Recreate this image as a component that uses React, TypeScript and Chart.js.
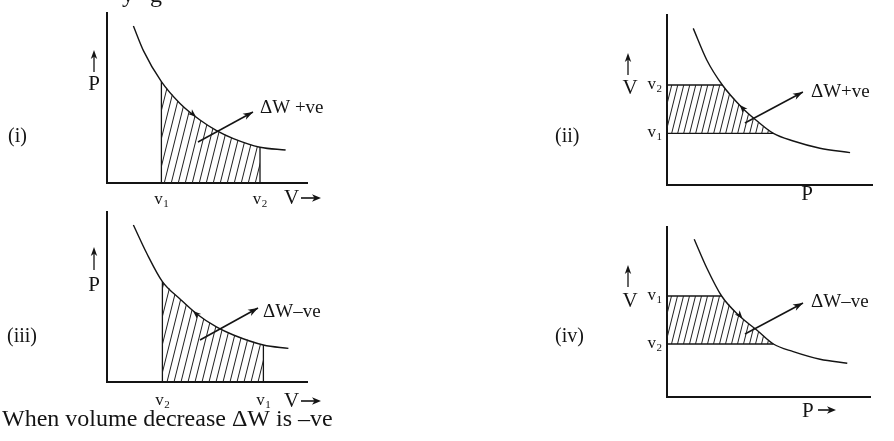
import React, { useEffect, useRef } from "react";
import { Chart, registerables } from "chart.js";

Chart.register(...registerables);

// ---------------- data ----------------
// Panel (i): P against V, expansion v1 -> v2
const p1CurveV = [1.32, 1.82, 2.72, 3.65, 4.65, 5.48, 6.32, 7.65, 8.93];
const p1CurveP = [7.85, 6.62, 5.07, 3.98, 3.15, 2.62, 2.22, 1.79, 1.65];
const p1Limits = [2.72, 7.65];
const p1LimitSubs = ["1", "2"];
const p1Leader = [4.55, 2.05, 7.3, 3.55];
const p1Mark = [4.2, 3.52, 4.45, 3.31];

// Panel (ii): V (vertical) against P
const p2CurveP = [1.28, 1.94, 2.7, 3.64, 4.38, 5.19, 6.16, 7.46, 8.93];
const p2CurveV = [7.83, 6.25, 5.0, 3.89, 3.21, 2.58, 2.2, 1.84, 1.62];
const p2Limits = [2.58, 5.0];
const p2LimitSubs = ["1", "2"];
const p2Leader = [3.8, 3.1, 6.63, 4.65];
const p2Mark = [3.75, 3.77, 3.55, 4.0];

// Panel (iii): P against V, compression v1 -> v2
const p3CurveV = [1.32, 1.98, 2.77, 3.65, 4.49, 5.49, 6.32, 7.82, 9.07];
const p3CurveP = [7.85, 6.45, 5.02, 4.15, 3.4, 2.74, 2.35, 1.85, 1.68];
const p3Limits = [2.77, 7.82];
const p3LimitSubs = ["2", "1"];
const p3Leader = [4.65, 2.1, 7.55, 3.7];
const p3Mark = [4.55, 3.33, 4.3, 3.55];

// Panel (iv): V (vertical) against P
const p4CurveP = [1.34, 1.96, 2.69, 3.6, 4.42, 5.24, 6.22, 7.54, 8.88];
const p4CurveV = [7.89, 6.45, 5.05, 4.02, 3.35, 2.65, 2.27, 1.89, 1.69];
const p4Limits = [2.65, 5.05];
const p4LimitSubs = ["2", "1"];
const p4Leader = [3.84, 3.15, 6.7, 4.7];
const p4Mark = [3.5, 4.18, 3.72, 3.93];

const noteTexts = ["\u0394W +ve", "\u0394W+ve", "\u0394W\u2013ve", "\u0394W\u2013ve"];
const romanTexts = ["(i)", "(ii)", "(iii)", "(iv)"];
const footerText = "When volume decrease \u0394W is \u2013ve";

// ---------------- layout / styles ----------------
const serif = '"Liberation Serif", "Times New Roman", Times, serif';
const INK = "#141414";

type Spec = {
  roman: string;
  vertV: boolean;
  cx: number[];
  cy: number[];
  limits: number[];
  subs: string[];
  leader: number[];
  mark: number[];
  note: string;
  box: { left: number; top: number; width: number; height: number };
  pad: { left: number; right: number; top: number; bottom: number };
  hatch: [number, number];
  romanPos: [number, number];
  yTitle: { text: string; cx: number; cy: number; ax: number; aTop: number; aBottom: number };
  xTitle: { text: string; x: number; base: number; align: "left" | "center"; arrow?: [number, number, number] };
  limitOffset: number;
  noteOffset: [number, number];
  extras: { text: string; x: number; y: number; size: number }[];
};

const specs: Spec[] = [
  {
    roman: romanTexts[0], vertV: false, cx: p1CurveV, cy: p1CurveP, limits: p1Limits, subs: p1LimitSubs,
    leader: p1Leader, mark: p1Mark, note: noteTexts[0],
    box: { left: 0, top: 0, width: 447, height: 210 },
    pad: { left: 107, right: 140, top: 13, bottom: 27 },
    hatch: [7, 28], romanPos: [8, 137],
    yTitle: { text: "P", cx: 94, cy: 84, ax: 94, aTop: 50, aBottom: 72 },
    xTitle: { text: "V", x: 284, base: 204, align: "left", arrow: [301, 321, 198] },
    limitOffset: 21, noteOffset: [7, -4],
    extras: [
      { text: "y", x: 122, y: 2, size: 24 },
      { text: "g", x: 150, y: 2, size: 24 },
    ],
  },
  {
    roman: romanTexts[1], vertV: true, cx: p2CurveP, cy: p2CurveV, limits: p2Limits, subs: p2LimitSubs,
    leader: p2Leader, mark: p2Mark, note: noteTexts[1],
    box: { left: 447, top: 0, width: 447, height: 210 },
    pad: { left: 220, right: 22, top: 15, bottom: 25 },
    hatch: [6, 24], romanPos: [108, 137],
    yTitle: { text: "V", cx: 183, cy: 88, ax: 181, aTop: 53, aBottom: 75 },
    xTitle: { text: "P", x: 360, base: 200, align: "center" },
    limitOffset: 4, noteOffset: [8, 0],
    extras: [],
  },
  {
    roman: romanTexts[2], vertV: false, cx: p3CurveV, cy: p3CurveP, limits: p3Limits, subs: p3LimitSubs,
    leader: p3Leader, mark: p3Mark, note: noteTexts[2],
    box: { left: 0, top: 210, width: 447, height: 231 },
    pad: { left: 107, right: 140, top: 2, bottom: 59 },
    hatch: [7, 28], romanPos: [7, 127],
    yTitle: { text: "P", cx: 94, cy: 75, ax: 94, aTop: 37, aBottom: 60 },
    xTitle: { text: "V", x: 284, base: 197, align: "left", arrow: [301, 321, 191] },
    limitOffset: 23, noteOffset: [5, 4],
    extras: [{ text: footerText, x: 2, y: 216, size: 24 }],
  },
  {
    roman: romanTexts[3], vertV: true, cx: p4CurveP, cy: p4CurveV, limits: p4Limits, subs: p4LimitSubs,
    leader: p4Leader, mark: p4Mark, note: noteTexts[3],
    box: { left: 447, top: 210, width: 447, height: 231 },
    pad: { left: 220, right: 24, top: 17, bottom: 44 },
    hatch: [6, 24], romanPos: [108, 127],
    yTitle: { text: "V", cx: 183, cy: 91, ax: 181, aTop: 55, aBottom: 77 },
    xTitle: { text: "P", x: 355, base: 207, align: "left", arrow: [371, 389, 200] },
    limitOffset: 4, noteOffset: [8, -1],
    extras: [],
  },
];

function makeHatch(spacing: number, rise: number): CanvasPattern {
  const c = document.createElement("canvas");
  c.width = spacing;
  c.height = rise;
  const g = c.getContext("2d")!;
  g.strokeStyle = "#1e1e1e";
  g.lineWidth = 1;
  for (const off of [-spacing, 0, spacing]) {
    g.beginPath();
    g.moveTo(off - spacing, 2 * rise);
    g.lineTo(off + 2 * spacing, -rise);
    g.stroke();
  }
  return g.createPattern(c, "repeat")!;
}

function head(ctx: CanvasRenderingContext2D, x1: number, y1: number, x2: number, y2: number, len: number, half: number) {
  const a = Math.atan2(y2 - y1, x2 - x1);
  const c = Math.cos(a), s = Math.sin(a);
  const bx = x2 - len * c, by = y2 - len * s;
  const nx = x2 - len * 0.72 * c, ny = y2 - len * 0.72 * s;
  ctx.beginPath();
  ctx.moveTo(x2, y2);
  ctx.lineTo(bx - half * s, by + half * c);
  ctx.lineTo(nx, ny);
  ctx.lineTo(bx + half * s, by - half * c);
  ctx.closePath();
  ctx.fill();
}

function vLabel(ctx: CanvasRenderingContext2D, sub: string, x: number, y: number, align: "center" | "right") {
  ctx.font = `17px ${serif}`;
  const w1 = ctx.measureText("v").width;
  ctx.font = `11px ${serif}`;
  const w2 = ctx.measureText(sub).width;
  const total = w1 + w2 + 0.5;
  const x0 = align === "center" ? x - total / 2 : x - total;
  ctx.textAlign = "left";
  ctx.textBaseline = "alphabetic";
  ctx.font = `17px ${serif}`;
  ctx.fillText("v", x0, y);
  ctx.font = `11px ${serif}`;
  ctx.fillText(sub, x0 + w1 + 0.5, y + 3);
}

function Panel({ spec }: { spec: Spec }) {
  const ref = useRef<HTMLCanvasElement>(null);
  useEffect(() => {
    const canvas = ref.current!;
    const pattern = makeHatch(spec.hatch[0], spec.hatch[1]);
    const eps = 1e-6;
    const curve = spec.cx.map((x, i) => ({ x, y: spec.cy[i] }));
    const [lo, hi] = spec.limits;
    let shade: { x: number; y: number }[];
    if (!spec.vertV) {
      const inner = curve.filter((p) => p.x >= lo - eps && p.x <= hi + eps);
      shade = [{ x: lo, y: 0 }, ...inner, { x: hi, y: 0 }];
    } else {
      const inner = curve.filter((p) => p.y >= lo - eps && p.y <= hi + eps).reverse();
      shade = [...inner, { x: 0, y: hi }, { x: 0, y: lo }];
    }
    const edges = spec.limits.map((v) => {
      const p = curve.find((q) => Math.abs((spec.vertV ? q.y : q.x) - v) < eps)!;
      return spec.vertV ? [{ x: 0, y: v }, { x: p.x, y: v }] : [{ x: v, y: 0 }, { x: v, y: p.y }];
    });
    const L = spec.leader;
    const leader = [{ x: L[0], y: L[1] }, { x: L[2], y: L[3] }];

    const base = { pointRadius: 0, pointHoverRadius: 0, clip: false as any, fill: false as any };
    const annot = {
      id: "annot",
      afterDatasetsDraw(chart: any) {
        const { ctx: c, chartArea: a, scales } = chart;
        const xs = scales.x, ys = scales.y;
        const px = (v: number) => xs.getPixelForValue(v);
        const py = (v: number) => ys.getPixelForValue(v);
        c.save();
        c.fillStyle = INK;
        c.strokeStyle = INK;
        head(c, px(L[0]), py(L[1]), px(L[2]), py(L[3]), 10, 3.5);
        const M = spec.mark;
        head(c, px(M[0]), py(M[1]), px(M[2]), py(M[3]), 8, 3.2);
        c.font = `19px ${serif}`;
        c.textAlign = "left";
        c.textBaseline = "middle";
        c.fillText(spec.note, px(L[2]) + spec.noteOffset[0], py(L[3]) + spec.noteOffset[1]);
        c.font = `20px ${serif}`;
        c.fillText(spec.roman, spec.romanPos[0], spec.romanPos[1]);
        const yt = spec.yTitle;
        c.font = `21px ${serif}`;
        c.textAlign = "center";
        c.fillText(yt.text, yt.cx, yt.cy);
        c.lineWidth = 1.3;
        c.beginPath();
        c.moveTo(yt.ax, yt.aBottom);
        c.lineTo(yt.ax, yt.aTop + 5);
        c.stroke();
        head(c, yt.ax, yt.aBottom, yt.ax, yt.aTop, 9, 3.2);
        const xt = spec.xTitle;
        c.textAlign = xt.align;
        c.textBaseline = "alphabetic";
        c.font = `21px ${serif}`;
        c.fillText(xt.text, xt.x, xt.base);
        if (xt.arrow) {
          const [x1, x2, yy] = xt.arrow;
          c.lineWidth = 1.6;
          c.beginPath();
          c.moveTo(x1, yy);
          c.lineTo(x2 - 5, yy);
          c.stroke();
          head(c, x1, yy, x2, yy, 9, 3.8);
        }
        spec.limits.forEach((v, i) => {
          if (!spec.vertV) vLabel(c, spec.subs[i], px(v), a.bottom + spec.limitOffset, "center");
          else vLabel(c, spec.subs[i], a.left - 5, py(v) + spec.limitOffset, "right");
        });
        c.textAlign = "left";
        c.textBaseline = "alphabetic";
        for (const e of spec.extras) {
          c.font = `${e.size}px ${serif}`;
          c.fillText(e.text, e.x, e.y);
        }
        c.restore();
      },
    };

    const chart = new Chart(canvas, {
      type: "line",
      data: {
        datasets: [
          { ...base, data: shade, fill: "shape", backgroundColor: pattern, borderColor: "rgba(0,0,0,0)", borderWidth: 1, tension: 0 },
          { ...base, data: edges[0], borderColor: INK, borderWidth: 1.3, tension: 0 },
          { ...base, data: edges[1], borderColor: INK, borderWidth: 1.3, tension: 0 },
          { ...base, data: curve, borderColor: INK, borderWidth: 1.4, cubicInterpolationMode: "monotone" },
          { ...base, data: leader, borderColor: INK, borderWidth: 1.5, tension: 0 },
        ] as any,
      },
      options: {
        responsive: false,
        maintainAspectRatio: false,
        animation: false,
        devicePixelRatio: 1,
        events: [],
        layout: { padding: spec.pad },
        plugins: { legend: { display: false }, tooltip: { enabled: false }, title: { display: false } },
        scales: {
          x: {
            type: "linear", min: 0, max: 10,
            grid: { display: false }, ticks: { display: false },
            border: { display: true, color: INK, width: 2 },
            afterFit: (s: any) => { s.height = 0; },
          },
          y: {
            type: "linear", min: 0, max: 8.5,
            grid: { display: false }, ticks: { display: false },
            border: { display: true, color: INK, width: 2 },
            afterFit: (s: any) => { s.width = 0; },
          },
        },
      } as any,
      plugins: [annot],
    });
    return () => chart.destroy();
  }, [spec]);
  return (
    <canvas
      ref={ref}
      width={spec.box.width}
      height={spec.box.height}
      style={{ position: "absolute", left: spec.box.left, top: spec.box.top, width: spec.box.width, height: spec.box.height, display: "block" }}
    />
  );
}

export default function App() {
  return (
    <div style={{ position: "fixed", left: 0, top: 0, width: 894, height: 441, background: "#fff", overflow: "hidden" }}>
      {specs.map((s, i) => (
        <Panel key={i} spec={s} />
      ))}
    </div>
  );
}
